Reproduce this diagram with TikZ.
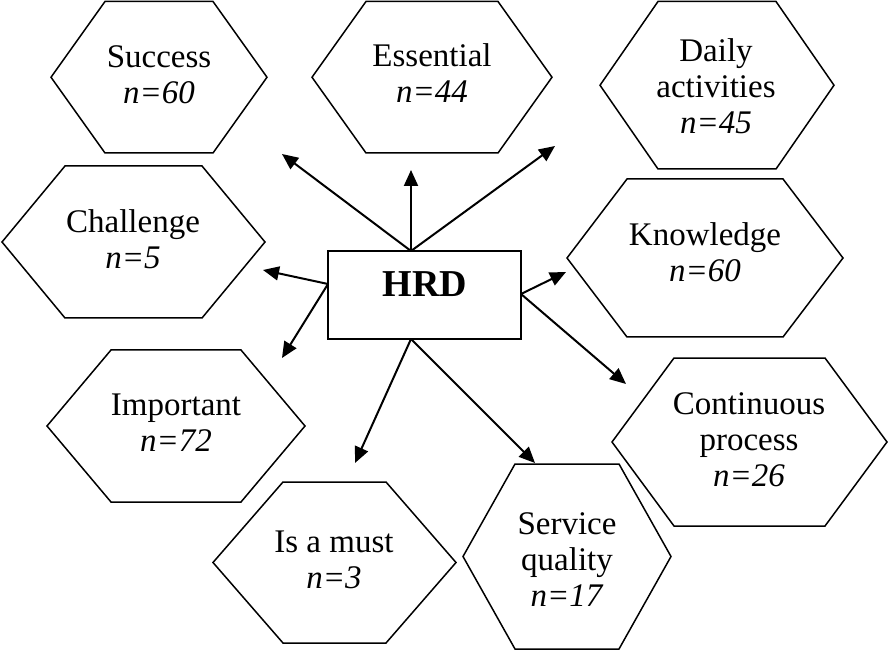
\documentclass[tikz,border=0pt]{standalone}
\usepackage{fontspec}
\setmainfont{Liberation Serif}
\usetikzlibrary{arrows.meta}
\tikzset{
  hexline/.style={draw=black, line width=1.5pt, line join=miter},
  lbl/.style={align=center, inner sep=0pt, font=\fontsize{33}{36}\selectfont},
  arr/.style={line width=2pt, -{Triangle[length=16pt,width=14pt]}},
}
\newcommand\hexa[5]{%
  \draw[hexline] (#1,{(#3+#4)/2}) -- ({#1+#5},#3) -- ({#2-#5},#3) -- (#2,{(#3+#4)/2})
    -- ({#2-#5},#4) -- ({#1+#5},#4) -- cycle;}
\begin{document}
\begin{tikzpicture}[x=1pt,y=-1pt]
\useasboundingbox (0,0) rectangle (889,652);
% hexagons
\hexa{51}{267}{1.5}{153}{54}
\hexa{312}{552}{1.5}{153}{54}
\hexa{600}{834}{1.5}{169}{58}
\hexa{2}{265}{166}{318}{63}
\hexa{567}{843}{179}{337}{60}
\hexa{47}{305}{350}{502}{64}
\hexa{213}{456}{482}{643}{70}
\hexa{463}{671}{464}{649}{52}
\hexa{612}{887}{358}{526}{62}
% labels
\node[lbl] (success) at (159,75) {Success\\\textit{n=60}};
\node[lbl] (essential) at (432,73) {Essential\\\textit{n=44}};
\node[lbl] (daily) at (716,86) {Daily\\activities\\\textit{n=45}};
\node[lbl] (challenge) at (133,239) {Challenge\\\textit{n=5}};
\node[lbl] (knowledge) at (705,252) {Knowledge\\\textit{n=60}};
\node[lbl] (important) at (176,423) {Important\\\textit{n=72}};
\node[lbl] (must) at (334,560) {Is a must\\\textit{n=3}};
\node[lbl] (service) at (567,560) {Service\\quality\\\textit{n=17}};
\node[lbl] (continuous) at (749,440) {Continuous\\process\\\textit{n=26}};
% center box
\node[draw, line width=1.5pt, minimum width=193pt, minimum height=88pt, inner sep=0pt] (HRD) at (424.5,295) {};
\node[inner sep=0pt, font=\fontsize{38}{40}\selectfont\bfseries] (hrdtext) at (425,284) {HRD};
% arrow start points
\coordinate (sTop) at (411,251);
\coordinate (sLeft) at (328,284);
\coordinate (sRight) at (521,294);
\coordinate (sBot) at (411,339);
% arrow tips
\coordinate (tSuccess) at (282,154);
\coordinate (tEssential) at (411,170);
\coordinate (tDaily) at (555,146);
\coordinate (tChallenge) at (263,270);
\coordinate (tImportant) at (282,358);
\coordinate (tKnowledge) at (566,272);
\coordinate (tContinuous) at (626,384);
\coordinate (tMust) at (355,463);
\coordinate (tService) at (535,463);
\draw[arr] (sTop) -- (tSuccess);
\draw[arr] (sTop) -- (tEssential);
\draw[arr] (sTop) -- (tDaily);
\draw[arr] (sLeft) -- (tChallenge);
\draw[arr] (sLeft) -- (tImportant);
\draw[arr] (sRight) -- (tKnowledge);
\draw[arr] (sRight) -- (tContinuous);
\draw[arr] (sBot) -- (tMust);
\draw[arr] (sBot) -- (tService);
\end{tikzpicture}
\end{document}
